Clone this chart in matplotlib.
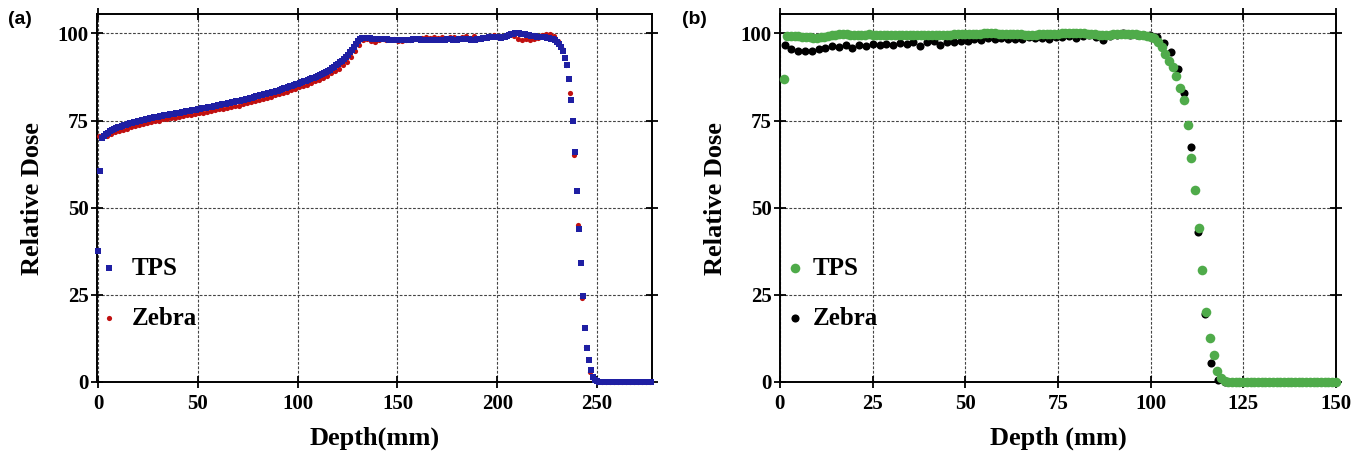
import numpy as np
import matplotlib
matplotlib.use("Agg")
import matplotlib.pyplot as plt

# (a) depth dose, TPS every 1 mm from 0 to 277 mm
tps_a_depth = np.arange(0, 278, 1)
tps_a = [
    37.5, 60.5, 70.0, 70.6, 71.1, 71.5, 71.9, 72.2, 72.5, 72.8,
    73.0, 73.2, 73.4, 73.6, 73.8, 74.0, 74.2, 74.3, 74.5, 74.6,
    74.8, 74.9, 75.1, 75.2, 75.4, 75.5, 75.6, 75.8, 75.9, 76.0,
    76.1, 76.3, 76.4, 76.5, 76.6, 76.7, 76.8, 76.9, 77.0, 77.1,
    77.2, 77.3, 77.4, 77.5, 77.6, 77.7, 77.8, 77.9, 78.0, 78.1,
    78.3, 78.4, 78.5, 78.6, 78.7, 78.8, 78.9, 79.0, 79.1, 79.3,
    79.4, 79.5, 79.6, 79.7, 79.8, 80.0, 80.1, 80.2, 80.3, 80.5,
    80.6, 80.7, 80.9, 81.0, 81.1, 81.3, 81.4, 81.6, 81.7, 81.9,
    82.0, 82.2, 82.3, 82.5, 82.6, 82.8, 83.0, 83.1, 83.3, 83.5,
    83.6, 83.8, 84.0, 84.2, 84.4, 84.6, 84.8, 85.0, 85.2, 85.4,
    85.6, 85.8, 86.0, 86.2, 86.4, 86.6, 86.9, 87.1, 87.3, 87.6,
    87.8, 88.1, 88.4, 88.7, 89.0, 89.3, 89.6, 90.0, 90.4, 90.8,
    91.2, 91.7, 92.2, 92.7, 93.3, 93.9, 94.6, 95.3, 96.1, 96.9,
    97.7, 98.3, 98.7, 98.8, 98.8, 98.7, 98.6, 98.5, 98.5, 98.4,
    98.4, 98.4, 98.3, 98.3, 98.3, 98.3, 98.2, 98.2, 98.2, 98.2,
    98.2, 98.1, 98.1, 98.1, 98.2, 98.2, 98.2, 98.2, 98.3, 98.3,
    98.3, 98.3, 98.2, 98.2, 98.2, 98.2, 98.1, 98.1, 98.1, 98.2,
    98.2, 98.2, 98.2, 98.2, 98.2, 98.3, 98.3, 98.3, 98.2, 98.2,
    98.2, 98.3, 98.3, 98.4, 98.4, 98.3, 98.3, 98.2, 98.2, 98.2,
    98.3, 98.4, 98.5, 98.6, 98.7, 98.8, 98.9, 99.0, 99.0, 99.0,
    98.9, 98.9, 98.8, 98.9, 99.1, 99.3, 99.5, 99.7, 99.9, 100.0,
    100.0, 100.0, 99.9, 99.8, 99.7, 99.5, 99.4, 99.3, 99.2, 99.2,
    99.1, 99.1, 99.0, 99.0, 98.9, 98.8, 98.7, 98.5, 98.3, 98.0,
    97.6, 96.9, 96.0, 94.8, 93.0, 91.0, 87.0, 81.0, 75.0, 66.0,
    54.8, 43.8, 34.0, 24.8, 15.6, 9.8, 6.3, 3.4, 1.5, 0.6,
    0.2, 0.1, 0.0, 0.0, 0.0, 0.0, 0.0, 0.0, 0.0, 0.0,
    0.0, 0.0, 0.0, 0.0, 0.0, 0.0, 0.0, 0.0, 0.0, 0.0,
    0.0, 0.0, 0.0, 0.0, 0.0, 0.0, 0.0, 0.0,
]

# (a) Zebra measurement every 2 mm from 0.5 mm
zebra_a_depth = np.arange(0.5, 277, 2)
zebra_a = [
    70.5, 70.6, 70.7, 71.1, 71.6, 72.0, 72.3, 72.7, 73.0, 73.4,
    73.7, 74.0, 74.3, 74.6, 74.9, 75.0, 75.3, 75.5, 75.6, 75.8,
    76.0, 76.3, 76.5, 76.6, 76.9, 77.1, 77.3, 77.5, 77.7, 77.9,
    78.2, 78.4, 78.6, 78.8, 79.1, 79.3, 79.7, 79.9, 80.2, 80.6,
    80.9, 81.2, 81.5, 81.8, 82.2, 82.5, 82.9, 83.3, 83.7, 84.1,
    84.5, 84.9, 85.3, 85.8, 86.2, 86.7, 87.3, 87.8, 88.5, 89.2,
    89.9, 90.8, 91.9, 93.2, 94.9, 96.6, 98.0, 98.5, 97.7, 97.6,
    98.0, 98.3, 98.1, 98.4, 98.3, 97.9, 97.7, 98.0, 98.2, 98.4,
    98.5, 98.7, 99.0, 98.6, 98.9, 98.6, 99.0, 98.5, 98.9, 99.1,
    98.6, 99.1, 99.3, 98.8, 99.2, 98.5, 98.6, 98.9, 99.3, 99.5,
    99.2, 99.0, 99.5, 99.7, 99.3, 98.5, 98.2, 98.4, 98.1, 98.4,
    98.7, 99.6, 99.9, 99.7, 99.3, 97.8, 95.5, 91.0, 83.0, 65.0,
    45.0, 24.0, 10.0, 3.0, 0.5, 0.0, 0.0, 0.0, 0.0, 0.0,
    0.0, 0.0, 0.0, 0.0, 0.0, 0.0, 0.0, 0.0, 0.0,
]

# (b) TPS every 1 mm from 1 to 150 mm
tps_b_depth = np.arange(1, 151, 1)
tps_b = [
    87.0, 99.2, 99.3, 99.3, 99.2, 99.1, 99.0, 98.9, 98.8, 98.8,
    98.9, 99.1, 99.3, 99.5, 99.6, 99.7, 99.7, 99.7, 99.6, 99.6,
    99.5, 99.6, 99.6, 99.7, 99.6, 99.6, 99.5, 99.5, 99.6, 99.6,
    99.6, 99.6, 99.5, 99.5, 99.5, 99.5, 99.6, 99.6, 99.6, 99.6,
    99.6, 99.6, 99.6, 99.6, 99.6, 99.6, 99.7, 99.7, 99.8, 99.8,
    99.8, 99.9, 99.9, 99.9, 100.0, 100.0, 100.0, 100.0, 99.9, 99.9,
    99.9, 99.8, 99.8, 99.7, 99.7, 99.6, 99.6, 99.6, 99.6, 99.7,
    99.7, 99.8, 99.8, 99.9, 99.9, 100.0, 100.0, 100.1, 100.1, 100.1,
    100.0, 100.0, 99.9, 99.8, 99.7, 99.6, 99.5, 99.5, 99.6, 99.7,
    99.8, 99.8, 99.8, 99.8, 99.8, 99.7, 99.6, 99.4, 99.2, 99.0,
    98.6, 97.5, 96.0, 94.0, 92.0, 90.3, 87.8, 84.3, 80.8, 73.8,
    64.3, 55.2, 44.1, 32.0, 20.2, 12.5, 7.6, 3.2, 1.0, 0.3,
    0.1, 0.0, 0.0, 0.0, 0.0, 0.0, 0.0, 0.0, 0.0, 0.0,
    0.0, 0.0, 0.0, 0.0, 0.0, 0.0, 0.0, 0.0, 0.0, 0.0,
    0.0, 0.0, 0.0, 0.0, 0.0, 0.0, 0.0, 0.0, 0.0, 0.0,
]

# (b) Zebra measurement, ~1.83 mm spacing
zebra_b_depth = np.linspace(1.3, 149.3, 82)
zebra_b = [
    96.6, 95.5, 94.8, 95.0, 95.0, 95.4, 95.7, 96.3, 96.2, 96.6,
    95.8, 96.6, 96.4, 96.9, 96.6, 97.0, 96.8, 97.2, 96.9, 97.6,
    96.5, 97.5, 97.7, 96.6, 97.6, 97.5, 97.8, 97.7, 98.5, 98.1,
    98.6, 98.5, 98.6, 98.5, 98.4, 98.5, 99.0, 98.6, 98.7, 98.5,
    99.1, 99.0, 99.2, 98.8, 99.3, 99.4, 99.0, 98.2, 99.3, 99.5,
    100.2, 99.4, 99.6, 99.5, 99.4, 98.9, 97.3, 94.7, 89.7, 83.0,
    67.5, 43.1, 19.4, 5.3, 0.5, 0.0, 0.0, 0.0, 0.0, 0.0,
    0.0, 0.0, 0.0, 0.0, 0.0, 0.0, 0.0, 0.0, 0.0, 0.0,
    0.0, 0.0,
]

serif = ['Liberation Serif', 'DejaVu Serif']
plt.rcParams['font.family'] = serif
plt.rcParams['font.weight'] = 'bold'

fig = plt.figure(figsize=(13.54, 4.58), dpi=100)
ax_a = fig.add_axes([0.0716, 0.166, 0.41, 0.803])
ax_b = fig.add_axes([0.576, 0.166, 0.4106, 0.803])


def style_axes(ax):
    for sp in ax.spines.values():
        sp.set_linewidth(1.4)
        sp.set_zorder(1)
    ax.grid(True, color='#444444', linestyle=(0, (2.5, 1.5)), linewidth=0.8)
    ax.set_axisbelow(True)
    ax.tick_params(direction='inout', length=8, width=1.3, top=True, right=True,
                   labelsize=15, pad=2)
    ax.tick_params(axis='x', pad=5)
    for lab in ax.get_xticklabels() + ax.get_yticklabels():
        lab.set_fontweight('bold')
    ax.set_ylabel('Relative Dose', fontsize=19, fontweight='bold', labelpad=10)


leg_font = {'family': serif, 'weight': 'bold', 'size': 18}

# panel (a)
ax_a.scatter(tps_a_depth, tps_a, marker='s', s=20, color='#1f1fa3',
             linewidths=0, label='TPS', zorder=3, clip_on=False)
ax_a.scatter(zebra_a_depth, zebra_a, marker='o', s=14, color='#c01010',
             linewidths=0, label='Zebra', zorder=2, clip_on=False)
ax_a.set_xlim(-0.5, 277.5)
ax_a.set_ylim(0, 105.5)
ax_a.set_xticks([0, 50, 100, 150, 200, 250])
ax_a.set_yticks([0, 25, 50, 75, 100])
style_axes(ax_a)
ax_a.set_xlabel('Depth(mm)', fontsize=19, fontweight='bold', labelpad=9)
ax_a.legend(loc='lower left', bbox_to_anchor=(-0.045, 0.08), frameon=False,
            handletextpad=0.3, labelspacing=1.1, handlelength=1.2,
            prop=leg_font)

# panel (b)
ax_b.scatter(tps_b_depth, tps_b, marker='o', s=48, color='#4fab4a',
             linewidths=0, label='TPS', zorder=3, clip_on=False)
ax_b.scatter(zebra_b_depth, zebra_b, marker='o', s=34, color='#000000',
             linewidths=0, label='Zebra', zorder=2, clip_on=False)
ax_b.set_xlim(0, 150)
ax_b.set_ylim(0, 105.5)
ax_b.set_xticks([0, 25, 50, 75, 100, 125, 150])
ax_b.set_yticks([0, 25, 50, 75, 100])
style_axes(ax_b)
ax_b.set_xlabel('Depth (mm)', fontsize=19, fontweight='bold', labelpad=9)
ax_b.legend(loc='lower left', bbox_to_anchor=(-0.04, 0.08), frameon=False,
            handletextpad=0.1, labelspacing=1.1, handlelength=1.2,
            prop=leg_font)

fig.text(0.006, 0.948, '(a)', fontsize=14, fontweight='bold',
         family=['Liberation Sans', 'DejaVu Sans'])
fig.text(0.504, 0.948, '(b)', fontsize=14, fontweight='bold',
         family=['Liberation Sans', 'DejaVu Sans'])

fig.savefig('out.png', dpi=100)
